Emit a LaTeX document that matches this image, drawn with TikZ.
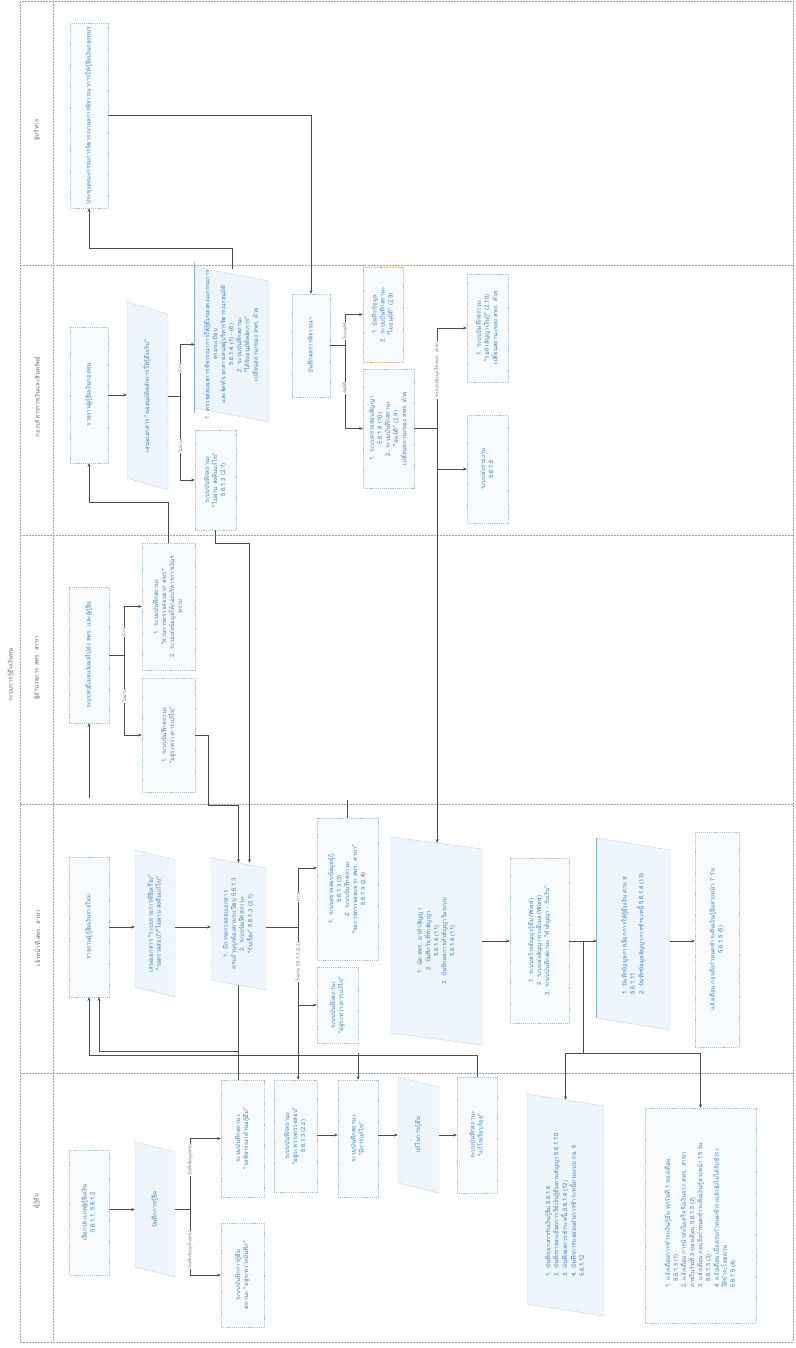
\documentclass[tikz,border=0pt]{standalone}
\usepackage{graphicx}
\usepackage{fontspec}
\setmainfont{Loma}[Script=Thai]
\usetikzlibrary{arrows.meta,calc}
\definecolor{txt}{HTML}{3C82C2}
\definecolor{bord}{HTML}{A9C5DC}
\definecolor{bfill}{HTML}{F7FBFE}
\definecolor{pfill}{HTML}{EEF5FC}
\definecolor{lnc}{HTML}{4D4D4D}
\definecolor{lanec}{HTML}{A0A0A0}
\definecolor{orng}{HTML}{F2B45A}
\newcommand{\vtc}[1]{\rotatebox{90}{\begin{tabular}{@{}c@{}}#1\end{tabular}}}
\newcommand{\vtl}[1]{\rotatebox{90}{\begin{tabular}{@{}l@{}}#1\end{tabular}}}
% name, cx, cy, w, h, s
\newcommand{\pgram}[6]{%
  \filldraw[pline] ({#2-#4/2},{#3-#5/2-#6/2}) -- ({#2+#4/2},{#3-#5/2+#6/2}) -- ({#2+#4/2},{#3+#5/2+#6/2}) -- ({#2-#4/2},{#3+#5/2-#6/2}) -- cycle;
  \node[pbox, minimum width=#4pt, minimum height=#5pt] (#1) at (#2,#3)}
\tikzset{
 bx/.style={draw=bord, fill=bfill, dash pattern=on 1.2pt off 0.9pt, line width=0.45pt, inner sep=1pt, text=txt, font=\fontsize{6}{8}\selectfont},
 obx/.style={bx, draw=orng},
 pbox/.style={draw=none, inner sep=1pt, text=txt, font=\fontsize{6}{8}\selectfont},
 pline/.style={draw=bord, fill=pfill, dash pattern=on 1.2pt off 0.9pt, line width=0.45pt},
 conn/.style={draw=lnc, line width=0.5pt, -{Stealth[length=3.6pt,width=3pt]}},
 cline/.style={draw=lnc, line width=0.5pt},
 lbl/.style={fill=white, inner sep=0.6pt, text=lnc!80, font=\fontsize{4.5}{5}\selectfont, rotate=90},
 laneline/.style={draw=lanec, line width=0.5pt, dash pattern=on 2pt off 1pt},
 lanet/.style={text=lnc!85, font=\fontsize{6}{7}\selectfont, rotate=90},
 edgeb/.style={draw=txt!60, line width=0.7pt}
}
\begin{document}
\begin{tikzpicture}[x=1pt,y=-1pt]
\useasboundingbox (0,0) rectangle (795,1348);
% frame and lanes
\draw[laneline] (20,1) rectangle (793,1342);
\draw[laneline] (53,1) -- (53,1342);
\foreach \yy in {265,535,804,1073} \draw[laneline] (20,\yy) -- (793,\yy);
\node[lanet] (title) at (11,675) {ระบบการกู้ยืมเงินทุน};
\node[lanet] (LA) at (37,130) {ผู้บริหาร};
\node[lanet] (LB) at (37,397) {กองบริหารการเงินและสินทรัพย์};
\node[lanet] (LC) at (37,668) {ผู้อำนวยการ สพร. สาขา};
\node[lanet] (LD) at (37,938) {เจ้าหน้าที่ สพร. สาขา};
\node[lanet] (LE) at (37,1201) {ผู้กู้ยืม};

% ---------- Lane A
\node[bx, minimum width=38pt, minimum height=185pt] (A1) at (89,115.5) {\vtc{ประชุมคณะกรรมการพิจารณาผลการพิจารณาการให้กู้ยืมเงินกองทุนฯ}};

% ---------- Lane B
\node[bx, minimum width=38pt, minimum height=136pt] (B1) at (89,395) {\vtc{รายงานผู้กู้ยืมเงินกองทุน}};
\pgram{B2}{147.5}{396}{41}{176}{12} {\vtc{เสนอเอกสาร “ขออนุมัติหลักการให้กู้ยืมเงิน”}};
\pgram{B3}{232}{344.5}{74}{141}{14} {\vtc{1. ตรวจสอบผลการพิจารณาการให้กู้ยืมของคณะกรรมการ\\ตามระเบียบ\\และจัดทำเอกสารเสนอผู้บริหารพิจารณาอนุมัติ\\5.6.1.4 (1) - (6)\\2. ระบบบันทึกสถานะ\\“ได้รับอนุมัติหลักการ”\\เปลี่ยนสถานะของ สพร. ด้วย}};
\draw[edgeb] ($(B3.north west)+(0,-7)$) -- ($(B3.south west)+(0,-7)$);
\node[bx, minimum width=41pt, minimum height=100pt] (B4) at (215.5,480) {\vtc{ระบบบันทึกสถานะ\\“ไม่ผ่าน ส่งคืนแก้ไข”\\5.6.1.3 (2.7)}};
\node[bx, minimum width=38pt, minimum height=103pt] (B5) at (311,345.5) {\vtc{บันทึกผลการพิจารณา}};
\node[obx, minimum width=40pt, minimum height=95pt] (B6) at (383,314.5) {\vtc{1. บันทึกข้อมูล\\2. ระบบบันทึกสถานะ\\“ไม่อนุมัติ” (2.9)}};
\node[bx, minimum width=51pt, minimum height=119pt] (B7) at (388.5,428.5) {\vtc{1. ระบบตรวจสอบสัญญา\\5.6.1.4 (10)\\2. ระบบบันทึกสถานะ\\“อนุมัติ” (2.9)\\เปลี่ยนสถานะของ สพร. ด้วย}};
\node[bx, minimum width=41pt, minimum height=108pt] (B8) at (487.5,328) {\vtc{1. ระบบบันทึกสถานะ\\“รอทำสัญญาเงินกู้” (2.10)\\เปลี่ยนสถานะของ สพร. ด้วย}};
\node[bx, minimum width=41pt, minimum height=108pt] (B9) at (487.5,469) {\vtc{ระบบส่งรายงาน\\5.6.1.5}};

% ---------- Lane C
\node[bx, minimum width=40pt, minimum height=136pt] (C1) at (89,655) {\vtc{ระบบส่งอีเมลแจ้งผลไปยัง สพร. และผู้กู้ยืม}};
\node[bx, minimum width=53pt, minimum height=127pt] (C2) at (168.5,606.5) {\vtc{1. ระบบบันทึกสถานะ\\“ผ่านการตรวจสอบจาก สพร.”\\2. ระบบส่งข้อมูลให้กองบริหารการเงินฯ\\ทราบ}};
\node[bx, minimum width=53pt, minimum height=114pt] (C3) at (168.5,735) {\vtc{1. ระบบบันทึกสถานะ\\“อยู่ระหว่างการแก้ไข”}};

% ---------- Lane D
\node[bx, minimum width=40pt, minimum height=140pt] (D1) at (89,927) {\vtc{รายงานผู้กู้ยืมเงินรายใหม่}};
\pgram{D2}{155}{923.5}{40}{137}{10} {\vtc{เสนอเอกสาร “ระบบรายการที่ยื่นเรื่อง”\\“รอตรวจสอบ”/“ไม่ผ่าน ส่งคืนแก้ไข”}};
\pgram{D3}{238.5}{924}{55}{122}{10} {\vtc{1. มีการตรวจสอบเอกสาร\\ครบถ้วนถูกต้องตามระเบียบ 5.6.1.3\\2. ระบบบันทึกสถานะ\\“รับเรื่อง” 5.6.1.3 (2.1)}};
\node[bx, minimum width=61pt, minimum height=142pt] (D4) at (347.5,889) {\vtc{1. ระบบตรวจสอบข้อมูลผู้กู้\\5.6.1.3 (3)\\2. ระบบบันทึกสถานะ\\“รอการตรวจสอบจาก สพร. สาขา”\\5.6.1.3 (2.4)}};
\node[bx, minimum width=41pt, minimum height=76pt] (D5) at (337.5,1005) {\vtc{ระบบบันทึกสถานะ\\“อยู่ระหว่างการแก้ไข”}};
\pgram{D6}{436.5}{941}{91}{196}{12} {\vtc{1. นัด สพร. มาทำสัญญา\\2. บันทึกวันที่ทำสัญญา\\5.6.1.4 (11)\\3. บันทึกผลการทำสัญญาในระบบ\\5.6.1.4 (11)}};
\node[bx, minimum width=59pt, minimum height=165pt] (D7) at (539.5,940.5) {\vtc{1. ระบบสร้างสัญญากู้ยืม (Word)\\2. ระบบส่งสัญญาทางอีเมล (Word)\\3. ระบบบันทึกสถานะ “ทำสัญญา - รับเงิน”}};
\pgram{D8}{633.5}{934}{73}{180}{12} {\vtl{1. บันทึกข้อมูลการเลือกการให้กู้ยืมเงิน ตาม ส\\5.6.1.11\\2. บันทึกข้อมูลสัญญาการชำระหนี้ 5.6.1.4 (13)}};
\draw[edgeb] ($(D8.north west)+(0,-6)$) -- ($(D8.south west)+(0,-6)$);
\node[bx, minimum width=44pt, minimum height=215pt] (D9) at (717,939.5) {\vtc{แจ้งเตือน ก่อนถึงกำหนดชำระคืนเงินกู้ยืมล่วงหน้า 7 วัน\\5.6.1.5 (5)}};

% ---------- Lane E
\node[bx, minimum width=40pt, minimum height=125pt] (E1) at (89,1212.5) {\vtc{เลือกประเภทผู้กู้ยืมเงิน\\5.6.1.1, 5.6.1.2}};
\pgram{E2}{155}{1209.5}{40}{125}{10} {\vtc{บันทึกการกู้ยืม}};
\node[bx, minimum width=43pt, minimum height=117pt] (E3) at (242.5,1138.5) {\vtc{ระบบบันทึกสถานะ\\“รอพิจารณาคำขอกู้ยืม”}};
\node[bx, minimum width=43pt, minimum height=104pt] (E4) at (242.5,1275) {\vtc{ระบบบันทึกการกู้ยืม\\สถานะ “อยู่ระหว่างบันทึก”}};
\node[bx, minimum width=43pt, minimum height=112pt] (E5) at (295.5,1136) {\vtc{ระบบบันทึกสถานะ\\“อยู่ระหว่างตรวจสอบ”\\5.6.1.3 (2.2)}};
\node[bx, minimum width=40pt, minimum height=117pt] (E6) at (358,1138.5) {\vtc{ระบบบันทึกสถานะ\\“มีการแก้ไข”}};
\pgram{E7}{418.5}{1135}{41}{106}{10} {\vtc{แก้ไขการกู้ยืม}};
\node[bx, minimum width=40pt, minimum height=116pt] (E8) at (477,1135) {\vtc{ระบบบันทึกสถานะ\\“แก้ไขเรียบร้อย”}};
\pgram{E9}{565.5}{1205}{77}{210}{12} {\vtl{1. บันทึกเอกสารรับเงินกู้ยืม 5.6.1.6\\2. บันทึกรายละเอียดการใช้เงินกู้ยืมตามสัญญา 5.6.1.10\\3. บันทึกผลการชำระหนี้ 5.6.1.4 (12)\\4. บันทึกการขอผ่อนผันการชำระหนี้ตามแบบ กย. 6\\5.6.1.12}};
\node[bx, minimum width=111pt, minimum height=215pt] (E10) at (700.5,1215.5) {\vtl{1. แจ้งเตือนการชำระเงินกู้ยืม ทุกวันที่ 1 ของเดือน\\\quad 5.6.1.5 (1)\\2. แจ้งเตือน การนำส่งใบเสร็จรับเงินจาก สพร. สาขา\\ภายในวันที่ 3 ของเดือน 5.6.1.5 (2)\\3. แจ้งเตือน ก่อนถึงกำหนดชำระคืนเงินกู้ล่วงหน้า 15 วัน\\\quad 5.6.1.5 (3)\\4. แจ้งเตือน เมื่อครบกำหนดชำระแล้วยังไม่ได้รับชำระ\\ให้ชำระโดยด่วน\\5.6.1.5 (4)}};

% ---------- connectors lane A/B
\draw[conn] (B3.north) -- ++(0,-20) -| (A1.south);
\draw[conn] (A1.east) -| (B5.north);
\draw[conn] (B1.east) -- (B1.east -| B2.west);
\draw[cline] (B2.east) -- ++(12,0) coordinate (jb2);
\draw[conn] (jb2) |- (B3.west);
\draw[conn] (jb2) |- (B4.west);
\draw[cline] (B5.east) -- ++(15,0) coordinate (jb5);
\draw[conn] (jb5) |- (B6.west);
\draw[conn] (jb5) |- (B7.west);
\draw[cline] (B7.east) -- ++(23,0) coordinate (jb7);
\draw[conn] (jb7) |- (B8.west);
\draw[conn] (jb7) |- (B9.west);
\draw[conn] (jb7) -- (jb7 |- D6.north);

% ---------- connectors B/C/D
\draw[conn] (C2.north) -- ++(0,-41) -| (B1.south);
\coordinate (c1in) at (89,798);
\draw[conn] (c1in) -- (C1.south);
\draw[cline] (C1.east) -- ++(15,0) coordinate (jc1);
\draw[conn] (jc1) |- (C2.west);
\draw[conn] (jc1) |- (C3.west);
\draw[conn] (B4.south) -- ++(0,13) -| ([xshift=11pt]D3.north);
\draw[conn] (C3.east) -- ++(13,0) -- ++(0,70) -| (D3.north);
\coordinate (d4up) at (347.5,800);
\draw[cline] (D4.north) -- (d4up);

% ---------- lane D
\draw[conn] (D1.east) -- (D1.east -| D2.west);
\draw[conn] (D2.east |- D1.east) -- (D3.west |- D1.east);
\draw[cline] (D3.east |- D1.east) -- ++(32,0) coordinate (jd3);
\draw[conn] (jd3) |- (D4.west |- 0,868);
\draw[conn] (jd3) |- (D5.west);
\draw[conn] (jd3) -- (jd3 |- E5.north);
\draw[conn] (D6.east) -- (D6.east -| D7.west);
\draw[conn] (D7.east |- D6.east) -- (D8.west |- D6.east);
\draw[conn] (D8.east |- D6.east) -- (D9.west |- D6.east);
\coordinate (jd7) at ($(D7.east |- D6.east)+(14,0)$);
\draw[conn] (jd7) |- (E9.north |- 0,1053) -- (E9.north);
\draw[conn] (jd7) |- (E10.north |- 0,1053) -- (E10.north);

% ---------- D/E left bus
\draw[cline] (D3.south) -- (D3.south |- E3.north);
\draw[conn] (E8.north) |- (D1.south |- 0,1055) -- (D1.south);
\draw[conn] (D3.south |- 0,1051) -| ([xshift=10pt]D1.south);
\draw[conn] (E6.north |- 0,1053) -- (E6.north);

% ---------- lane E
\draw[conn] (E1.east |- E2.west) -- (E2.west);
\draw[cline] (E2.east) -- ++(15,0) coordinate (je2);
\draw[conn] (je2) |- (E3.west);
\draw[conn] (je2) |- (E4.west);
\draw[conn] (E5.east |- E7.west) -- (E6.west |- E7.west);
\draw[conn] (E6.east |- E7.west) -- (E7.west);
\draw[conn] (E7.east) -- (E7.east -| E8.west);

% ---------- connector labels
\node[lbl] (l1) at (180,368) {ผ่าน};
\node[lbl] (l2) at (180,446) {ไม่ผ่าน};
\node[lbl] (l3) at (345,331) {ไม่อนุมัติ};
\node[lbl] (l4) at (345,388) {อนุมัติ};
\node[lbl] (l5) at (437,370) {ระบบส่งข้อมูลให้ สพร. สาขา};
\node[lbl] (l6) at (124,632) {ผ่าน};
\node[lbl] (l7) at (124,696) {ไม่ผ่าน};
\node[lbl] (l8) at (298,897) {ผ่าน};
\node[lbl] (l9) at (298,962) {ไม่ผ่าน 5.6.1.3 (2.2)};
\node[lbl] (l10) at (190,1160) {บันทึกข้อมูลครบ};
\node[lbl] (l11) at (190,1250) {บันทึกข้อมูลไม่ครบ};
\end{tikzpicture}
\end{document}
